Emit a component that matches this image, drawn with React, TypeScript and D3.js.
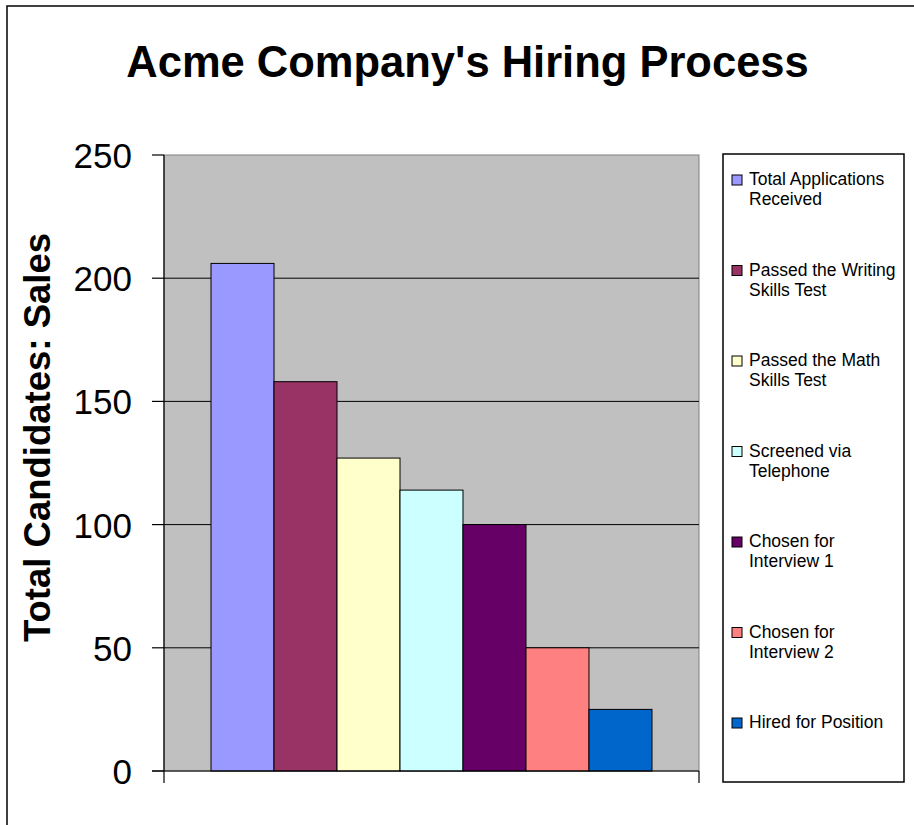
import React from "react";
import * as d3 from "d3";

const categories = ["Sales"];
const seriesNames = [
  ["Total Applications", "Received"],
  ["Passed the Writing", "Skills Test"],
  ["Passed the Math", "Skills Test"],
  ["Screened via", "Telephone"],
  ["Chosen for", "Interview 1"],
  ["Chosen for", "Interview 2"],
  ["Hired for Position"],
];
const seriesValues = [206, 158, 127, 114, 100, 50, 25];
const seriesColors = ["#9999FF", "#993366", "#FFFFCC", "#CCFFFF", "#660066", "#FF8080", "#0066CC"];
const yTicks = [0, 50, 100, 150, 200, 250];
const title = "Acme Company's Hiring Process";
const yLabel = "Total Candidates: Sales";

export default function App() {
  const W = 914, H = 825;
  const plot = { left: 164, right: 699, top: 155, bottom: 771 };
  const y = d3.scaleLinear().domain([0, 250]).range([plot.bottom, plot.top]);
  const x0 = d3.scaleBand<string>().domain(categories).range([plot.left, plot.right]).paddingInner(0).paddingOuter(0.1066);
  const x1 = d3.scaleBand<number>().domain(d3.range(seriesValues.length)).range([0, x0.bandwidth()]).padding(0);
  const font = "'Liberation Sans', Arial, sans-serif";
  const legend = { x: 723, y: 154, w: 181, h: 628 };
  const entryPitch = 90.5;
  const firstBaseline = 185;
  const lineH = 20;

  return (
    <svg width={W} height={H} style={{ position: "absolute", left: 0, top: 0 }} fontFamily={font}>
      <rect x={0} y={0} width={W} height={H} fill="#fff" />
      <rect x={7} y={6} width={1000} height={1000} fill="#fff" stroke="#000" strokeWidth={1.5} />
      <text x={467.5} y={77} textAnchor="middle" fontSize={43.5} fontWeight="bold" fill="#000">{title}</text>
      {/* plot area */}
      <rect x={plot.left} y={plot.top} width={plot.right - plot.left} height={plot.bottom - plot.top} fill="#C0C0C0" stroke="#808080" strokeWidth={1} />
      {yTicks.filter(t => t > 0 && t < 250).map(t => (
        <line key={"g" + t} x1={plot.left} x2={plot.right} y1={y(t)} y2={y(t)} stroke="#000" strokeWidth={1} />
      ))}
      {categories.map(c => (
        <g key={c} transform={`translate(${x0(c)},0)`}>
          {seriesValues.map((v, i) => (
            <rect key={i} x={x1(i)} y={y(v)} width={x1.bandwidth()} height={y(0) - y(v)} fill={seriesColors[i]} stroke="#000" strokeWidth={1} />
          ))}
        </g>
      ))}
      {/* axes */}
      <line x1={plot.left} x2={plot.left} y1={plot.top} y2={plot.bottom} stroke="#000" strokeWidth={1.2} />
      <line x1={152} x2={plot.right} y1={plot.bottom} y2={plot.bottom} stroke="#000" strokeWidth={1.2} />
      {yTicks.map(t => (
        <g key={"t" + t}>
          <line x1={152} x2={plot.left} y1={y(t)} y2={y(t)} stroke="#000" strokeWidth={1.2} />
          <text x={132} y={y(t) + 13} textAnchor="end" fontSize={35} fill="#000">{t}</text>
        </g>
      ))}
      {[plot.left, plot.right].map((xx, i) => (
        <line key={"xt" + i} x1={xx} x2={xx} y1={plot.bottom} y2={783} stroke="#000" strokeWidth={1.2} />
      ))}
      <text transform={`translate(50,437.5) rotate(-90)`} textAnchor="middle" fontSize={36.5} fontWeight="bold" fill="#000">{yLabel}</text>
      {/* legend */}
      <rect x={legend.x} y={legend.y} width={legend.w} height={legend.h} fill="#fff" stroke="#000" strokeWidth={1.5} />
      {seriesNames.map((lines, i) => {
        const by = firstBaseline + entryPitch * i;
        return (
          <g key={"l" + i}>
            <rect x={732} y={by - 10} width={10} height={10} fill={seriesColors[i]} stroke="#000" strokeWidth={1} />
            <text x={749} y={by} fontSize={17.5} fill="#000">
              {lines.map((ln, j) => (
                <tspan key={j} x={749} y={by + j * lineH}>{ln}</tspan>
              ))}
            </text>
          </g>
        );
      })}
    </svg>
  );
}
